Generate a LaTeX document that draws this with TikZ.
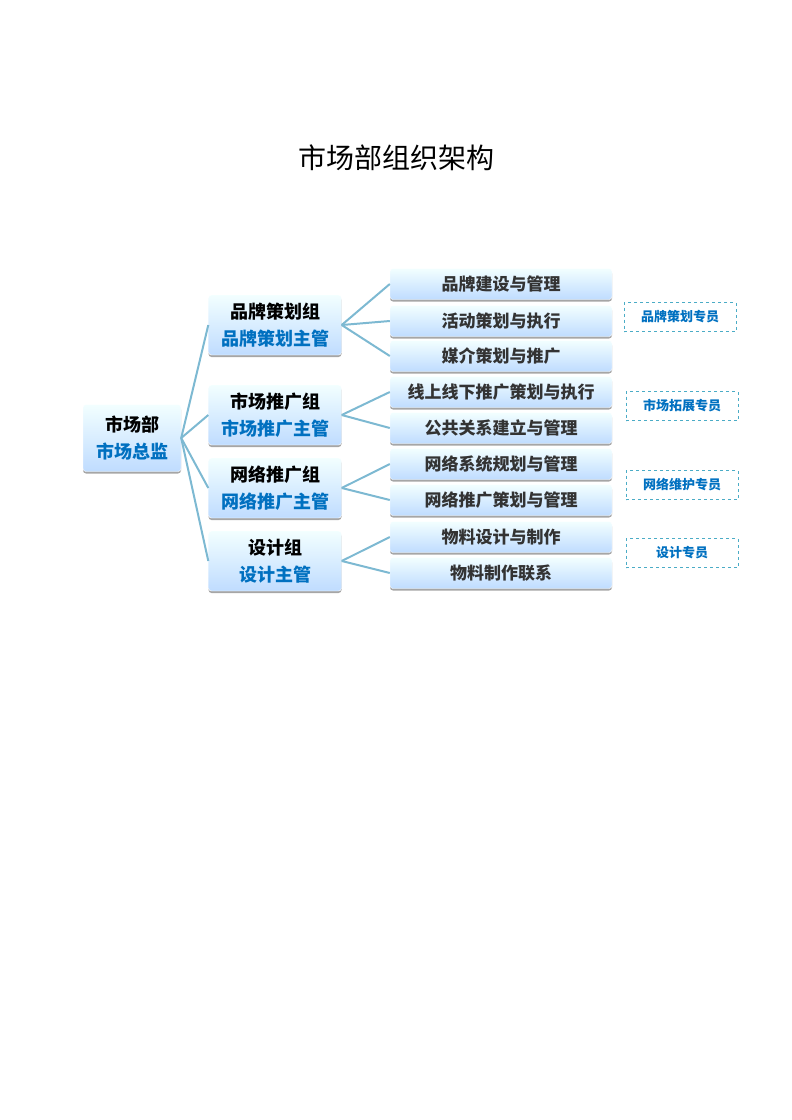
\documentclass[tikz,border=0pt]{standalone}
\usepackage{fontspec}
\setmainfont{Noto Sans CJK SC}
\usetikzlibrary{positioning, shadows}
\definecolor{headblue}{HTML}{0070C0}
\definecolor{linkblue}{HTML}{7DB9D2}
\definecolor{dashblue}{HTML}{4BACC6}
\tikzset{
  box/.style={rounded corners=3pt, top color=blue!3!cyan!5, bottom color=cyan!45!blue!25, draw=white, align=center, drop shadow={shadow xshift=0pt, shadow yshift=-2pt, fill=gray!70, opacity=1}, font=\bfseries},
  leafbox/.style={box, minimum width=222, minimum height=31, text=black!80, font=\fontsize{17}{19}\selectfont\bfseries},
  groupbox/.style={box, minimum width=133, minimum height=60, font=\fontsize{18}{27}\selectfont\bfseries},
  staffbox/.style={draw=dashblue, dashed, minimum width=112, minimum height=29, text=headblue, font=\fontsize{13}{15}\selectfont\bfseries},
  link/.style={linkblue, line width=2pt}
}
\begin{document}
\begin{tikzpicture}[x=1pt, y=-1pt]
\useasboundingbox (0,0) rectangle (792,1120);
\node[font=\fontsize{28}{30}\selectfont] (title) at (396,158) {市场部组织架构};
% root and groups
\node[box, minimum width=98, minimum height=67, font=\fontsize{18}{27}\selectfont\bfseries] (root) at (132,438) {市场部\\\textcolor{headblue}{市场总监}};
\node[groupbox] (brand) at (275,325) {品牌策划组\\\textcolor{headblue}{品牌策划主管}};
\node[groupbox] (market) at (275,415) {市场推广组\\\textcolor{headblue}{市场推广主管}};
\node[groupbox] (web) at (275,488) {网络推广组\\\textcolor{headblue}{网络推广主管}};
\node[groupbox] (design) at (275,561) {设计组\\\textcolor{headblue}{设计主管}};
% tasks
\node[leafbox] (b1) at (501,284) {品牌建设与管理};
\node[leafbox] (b2) at (501,321) {活动策划与执行};
\node[leafbox] (b3) at (501,356) {媒介策划与推广};
\node[leafbox] (m1) at (501,392) {线上线下推广策划与执行};
\node[leafbox] (m2) at (501,428) {公共关系建立与管理};
\node[leafbox] (w1) at (501,464) {网络系统规划与管理};
\node[leafbox] (w2) at (501,500) {网络推广策划与管理};
\node[leafbox] (d1) at (501,537) {物料设计与制作};
\node[leafbox] (d2) at (501,573) {物料制作联系};
% staff
\node[staffbox] (bs) at (680,317) {品牌策划专员};
\node[staffbox] (ms) at (682,406) {市场拓展专员};
\node[staffbox] (ws) at (682,485) {网络维护专员};
\node[staffbox] (ds) at (682,553) {设计专员};
% links
\foreach \g in {brand, market, web, design}
  \draw[link] (root.east) -- (\g.west);
\foreach \t in {b1, b2, b3}
  \draw[link] (brand.east) -- (\t.west);
\foreach \t in {m1, m2}
  \draw[link] (market.east) -- (\t.west);
\foreach \t in {w1, w2}
  \draw[link] (web.east) -- (\t.west);
\foreach \t in {d1, d2}
  \draw[link] (design.east) -- (\t.west);
\end{tikzpicture}
\end{document}
